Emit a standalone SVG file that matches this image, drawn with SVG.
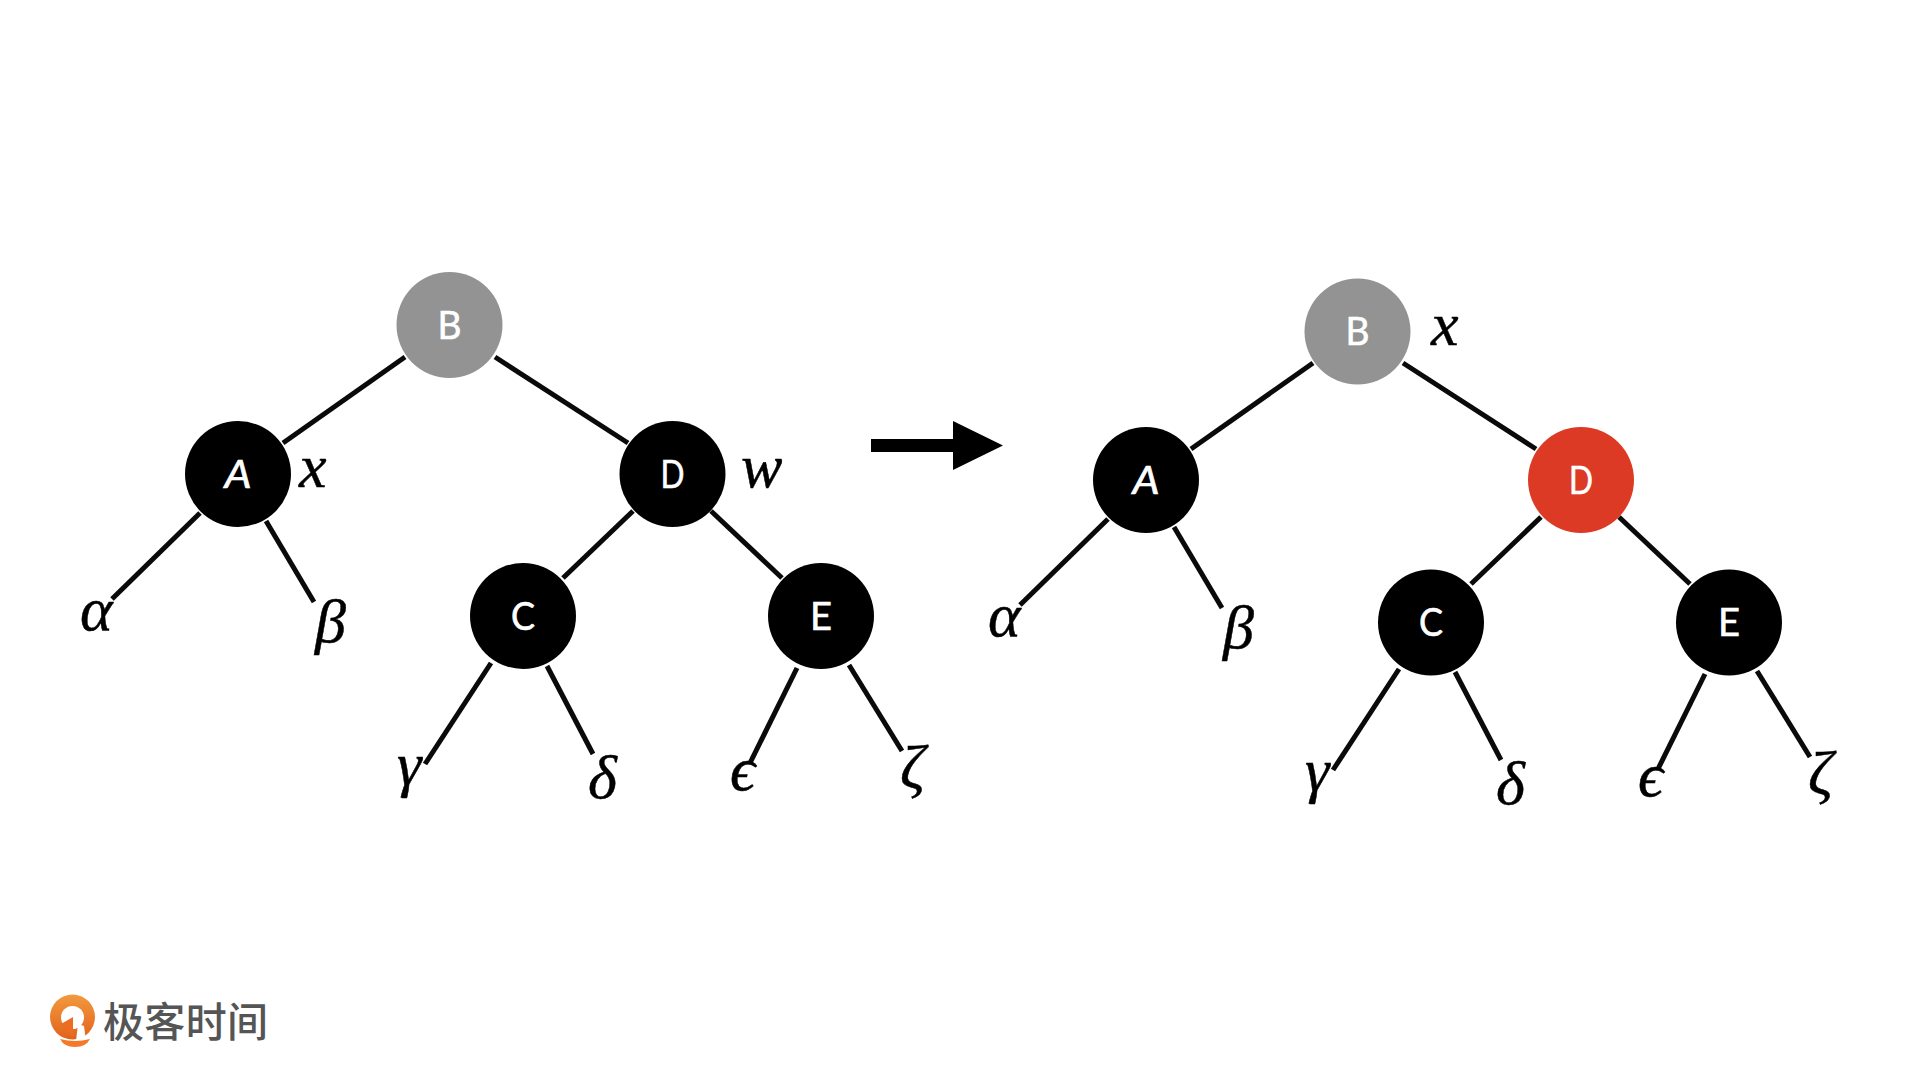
<svg xmlns="http://www.w3.org/2000/svg" width="1920" height="1080" viewBox="0 0 1920 1080">
<style>
.edge{stroke:#0a0a0a;stroke-width:5;fill:none}
.letter{font-family:"Lato","Liberation Sans",sans-serif;font-size:38px;fill:#fff;text-anchor:middle;stroke:#fff;stroke-width:.6}
.math{font-family:"Liberation Serif","DejaVu Serif",serif;font-style:italic;font-size:62px;fill:#000;stroke:#000;stroke-width:.5}
.black{fill:#000}.gray{fill:#939393}.red{fill:#dc3a25}
</style>
<defs>
<linearGradient id="lg" x1="0" y1="0" x2="0" y2="1"><stop offset="0" stop-color="#f29a3f"/><stop offset="1" stop-color="#e2621b"/></linearGradient>
</defs>
<rect width="1920" height="1080" fill="#fff"/>
<g id="connectors">
<g id="edges-left">
<line class="edge" x1="405" y1="357" x2="283" y2="443"/>
<line class="edge" x1="495" y1="357" x2="628" y2="443"/>
<line class="edge" x1="200" y1="513" x2="112" y2="599"/>
<line class="edge" x1="266" y1="521" x2="314" y2="602"/>
<line class="edge" x1="633" y1="511" x2="563" y2="578"/>
<line class="edge" x1="711" y1="511" x2="782" y2="578"/>
<line class="edge" x1="491" y1="663" x2="425" y2="764"/>
<line class="edge" x1="547" y1="666" x2="593" y2="754"/>
<line class="edge" x1="797" y1="668" x2="750" y2="763"/>
<line class="edge" x1="849" y1="665" x2="902" y2="751"/>
</g>
<g id="edges-right" transform="translate(908 6)">
<line class="edge" x1="405" y1="357" x2="283" y2="443"/>
<line class="edge" x1="495" y1="357" x2="628" y2="443"/>
<line class="edge" x1="200" y1="513" x2="112" y2="599"/>
<line class="edge" x1="266" y1="521" x2="314" y2="602"/>
<line class="edge" x1="633" y1="511" x2="563" y2="578"/>
<line class="edge" x1="711" y1="511" x2="782" y2="578"/>
<line class="edge" x1="491" y1="663" x2="425" y2="764"/>
<line class="edge" x1="547" y1="666" x2="593" y2="754"/>
<line class="edge" x1="797" y1="668" x2="750" y2="763"/>
<line class="edge" x1="849" y1="665" x2="902" y2="751"/>
</g>
<path id="arrow" d="M871 439H953V421L1003 445.500L953 470V452H871Z" fill="#000"/>
</g>
<g id="tree-left">
<g id="l-B"><circle class="gray" cx="449.500" cy="325" r="53"/><text class="letter" x="449.500" y="339" textLength="24" lengthAdjust="spacingAndGlyphs">B</text></g>
<g id="l-A"><circle class="black" cx="238" cy="474" r="53"/><text class="letter" x="238" y="488" font-style="italic" textLength="27" lengthAdjust="spacingAndGlyphs">A</text></g>
<g id="l-D"><circle class="black" cx="672.500" cy="474" r="53"/><text class="letter" x="672.500" y="488" textLength="24" lengthAdjust="spacingAndGlyphs">D</text></g>
<g id="l-C"><circle class="black" cx="523" cy="616" r="53"/><text class="letter" x="523" y="630" textLength="24" lengthAdjust="spacingAndGlyphs">C</text></g>
<g id="l-E"><circle class="black" cx="821" cy="616" r="53"/><text class="letter" x="821" y="630" textLength="22" lengthAdjust="spacingAndGlyphs">E</text></g>
<text class="math" x="299" y="487">x</text>
<text class="math" x="741" y="487">w</text>
<text class="math" x="80" y="630">α</text>
<text class="math" x="315" y="642">β</text>
<text class="math" x="397" y="785">γ</text>
<text class="math" x="588" y="798">δ</text>
<text class="math" x="730" y="790">ϵ</text>
<text class="math" x="900" y="788">ζ</text>
</g>
<g id="tree-right">
<g id="r-B"><circle class="gray" cx="1357.500" cy="331.500" r="53"/><text class="letter" x="1357.500" y="345" textLength="24" lengthAdjust="spacingAndGlyphs">B</text></g>
<g id="r-A"><circle class="black" cx="1146" cy="480" r="53"/><text class="letter" x="1146" y="494" font-style="italic" textLength="27" lengthAdjust="spacingAndGlyphs">A</text></g>
<g id="r-D"><circle class="red" cx="1581" cy="480" r="53"/><text class="letter" x="1581" y="494" textLength="24" lengthAdjust="spacingAndGlyphs">D</text></g>
<g id="r-C"><circle class="black" cx="1431" cy="622.500" r="53"/><text class="letter" x="1431" y="636" textLength="24" lengthAdjust="spacingAndGlyphs">C</text></g>
<g id="r-E"><circle class="black" cx="1729" cy="622.500" r="53"/><text class="letter" x="1729" y="636" textLength="22" lengthAdjust="spacingAndGlyphs">E</text></g>
<text class="math" x="1431" y="345">x</text>
<text class="math" x="988" y="636">α</text>
<text class="math" x="1223" y="648">β</text>
<text class="math" x="1305" y="791">γ</text>
<text class="math" x="1496" y="804">δ</text>
<text class="math" x="1638" y="796">ϵ</text>
<text class="math" x="1808" y="794">ζ</text>
</g>
<g id="logo">
<circle cx="72.500" cy="1017" r="22.500" fill="url(#lg)"/>
<circle cx="72.500" cy="1017.500" r="11.500" fill="#fff"/>
<path fill="#ea6d22" d="M73 1017V1037L61 1024Z"/>
<path fill="#fff" d="M78 1024L84 1026L86 1041H76Z"/>
<path fill="#f4792b" d="M60 1039q15 4 30 0q-4 8-15 8q-11 0-15-8Z"/>
<text x="103" y="1037" font-family="'Noto Sans CJK SC',sans-serif" font-size="41" font-weight="500" fill="#555" textLength="165" lengthAdjust="spacing">极客时间</text>
</g>
</svg>
